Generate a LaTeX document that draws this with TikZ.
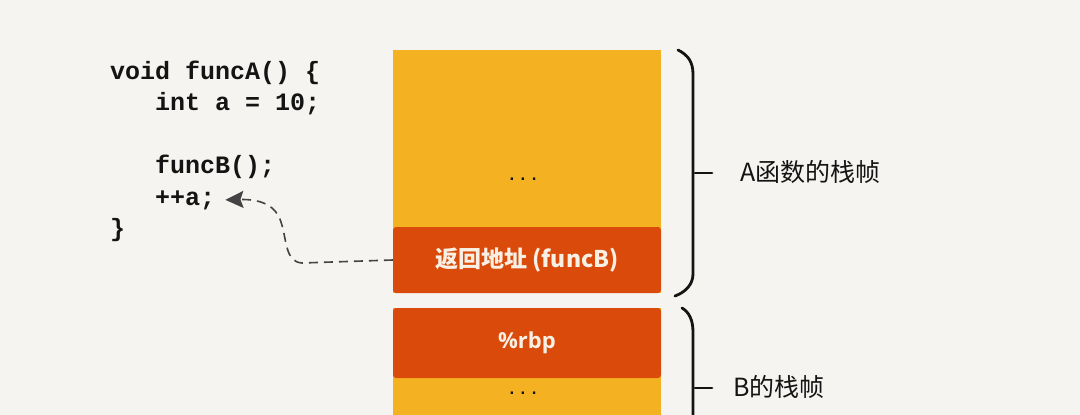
\documentclass[tikz,border=0pt]{standalone}
\usepackage{fontspec}
\setmainfont{Liberation Sans}
\newfontfamily\codefont{Liberation Mono}
\newfontfamily\cjk{Noto Sans CJK SC}
\usetikzlibrary{arrows.meta}
\definecolor{bg}{RGB}{245,244,241}
\definecolor{frameyel}{RGB}{244,178,35}
\definecolor{frameor}{RGB}{218,74,10}
\definecolor{boxtxt}{RGB}{248,240,228}
\definecolor{ink}{RGB}{20,20,20}
\newcommand{\stackdots}{.\hspace{4.5pt}.\hspace{4.5pt}.}
\tikzset{
  codeline/.style={anchor=base west, inner sep=0pt, font=\codefont\bfseries\fontsize{25}{25}\selectfont, text=ink},
  yelbox/.style={fill=frameyel, draw=none, minimum width=268pt, inner sep=0pt},
  orbox/.style={fill=frameor, draw=none, rounded corners=3pt, minimum width=268pt, inner sep=0pt, text=boxtxt, font=\cjk\bfseries\fontsize{23}{23}\selectfont},
  dots/.style={anchor=base, font=\fontsize{24}{24}\selectfont, text=ink, inner sep=0pt},
  brace/.style={draw=ink, line width=2.8pt, line cap=round, line join=round},
  bracelabel/.style={anchor=west, inner sep=0pt, text=ink, font=\cjk\fontsize{25}{25}\selectfont},
  flow/.style={draw=ink!80, line width=1.6pt, dash pattern=on 9pt off 6pt, -{Stealth[length=18pt,width=17pt,inset=3pt]}}
}
\begin{document}
\begin{tikzpicture}[x=1pt,y=-1pt]
\useasboundingbox (0,0) rectangle (1080,415);
\fill[bg] (0,0) rectangle (1080,415);
\begin{scope}
\clip (0,0) rectangle (1080,415);
% code
\node[codeline] (l1) at (110,79) {void funcA() \{};
\node[codeline] (l2) at (110,110.5) {\ \ \ int a = 10;};
\node[codeline] (l3) at (110,173.5) {\ \ \ funcB();};
\node[codeline] (inc) at (110,205) {\ \ \ ++a;};
\node[codeline] (l5) at (110,236.5) {\}};
% frame A
\node[yelbox, minimum height=243pt] (fa) at (527,171.5) {};
\node[dots] (dA) at (523,180) {\stackdots};
\node[orbox, minimum height=66pt] (ra) at (527,260) {返回地址 (funcB)};
% frame B
\node[yelbox, minimum height=122pt] (fb) at (527,369) {};
\node[orbox, minimum height=70pt] (rbp) at (527,343) {\fontspec{Open Sans}\bfseries\fontsize{22}{22}\selectfont\%rbp};
\node[dots] (dB) at (523,394) {\stackdots};
% braces
\draw[brace] (678,50) .. controls (688,55) and (693,62) .. (693,74) -- (693,274) .. controls (693,284) and (686,292) .. (675,296);
\draw[brace] (695,173) -- (712,173);
\draw[brace] (682,308) .. controls (689,312) and (693,320) .. (693,332) -- (693,420);
\draw[brace] (695,388) -- (712,388);
\node[bracelabel] (labA) at (740,172) {A函数的栈帧};
\node[bracelabel] (labB) at (733,387) {B的栈帧};
% return arrow
\draw[flow] (ra.west) -- (302,263) .. controls (285,262) and (287,240) .. (281,222) .. controls (276,206) and (262,199) .. ([xshift=10pt]inc.east);
\end{scope}
\end{tikzpicture}
\end{document}
